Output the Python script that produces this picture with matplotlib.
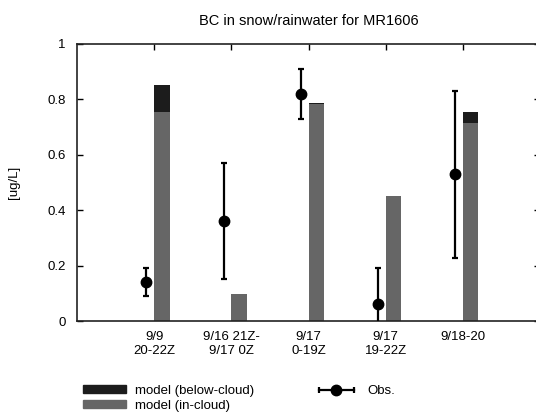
import matplotlib
matplotlib.use("Agg")
import matplotlib.pyplot as plt
from matplotlib.lines import Line2D
from matplotlib.patches import Patch
from matplotlib.legend_handler import HandlerLine2D

plt.rcParams['font.family'] = ['Liberation Sans', 'DejaVu Sans']
plt.rcParams['font.size'] = 9.5

# data
labels = ["9/9\n20-22Z", "9/16 21Z-\n9/17 0Z", "9/17\n0-19Z", "9/17\n19-22Z", "9/18-20"]
in_cloud = [0.755, 0.097, 0.783, 0.451, 0.716]
below_cloud = [0.097, 0.0, 0.004, 0.0, 0.039]
obs = [0.142, 0.361, 0.818, 0.061, 0.531]
obs_low = [0.090, 0.152, 0.730, -0.07, 0.229]
obs_high = [0.191, 0.569, 0.910, 0.190, 0.830]

x = list(range(1, len(labels) + 1))
c_in = '#666666'
c_below = '#1c1c1c'

fig = plt.figure(figsize=(5.36, 4.12), dpi=100)
ax = fig.add_axes([77 / 536, 91 / 412, 463 / 536, 277 / 412])

bx = [v + 0.1 for v in x]
ax.bar(bx, in_cloud, width=0.2, color=c_in, zorder=2)
ax.bar(bx, below_cloud, width=0.2, bottom=in_cloud, color=c_below, zorder=2)

ox = [v - 0.1 for v in x]
yerr = [[o - l for o, l in zip(obs, obs_low)], [h - o for o, h in zip(obs, obs_high)]]
ax.errorbar(ox, obs, yerr=yerr, fmt='o', color='black', ms=7.5, elinewidth=1.6,
            capsize=2, capthick=1.6, zorder=3)

ax.set_xlim(0, 6)
ax.set_ylim(0, 1)
ax.set_yticks([0, 0.2, 0.4, 0.6, 0.8, 1.0])
ax.set_yticklabels(["0", "0.2", "0.4", "0.6", "0.8", "1"])
ax.set_xticks(x)
ax.set_xticklabels(labels, linespacing=1.25)
ax.tick_params(axis='y', direction='in', length=4, width=1, left=True, right=True, pad=8)
ax.tick_params(axis='x', direction='in', length=4, width=1, bottom=False, top=True, pad=7)
for s in ax.spines.values():
    s.set_linewidth(1.2)
    s.set_color('#222222')

ax.set_ylabel("[ug/L]", labelpad=20)
ax.set_title("BC in snow/rainwater for MR1606", fontsize=10.5, pad=14)

h1 = Patch(color=c_below)
h2 = Patch(color=c_in)
caps = Line2D([], [], color='black', lw=1.6, marker='|', ms=5, mew=1.6)
dot = Line2D([], [], color='black', ls='none', marker='o', ms=7.5)
fig.legend([h1, h2, (caps, dot)], ["model (below-cloud)", "model (in-cloud)", "Obs."],
           ncol=2, loc='upper left', bbox_to_anchor=(83 / 536, 1 - 385 / 412),
           frameon=False, handlelength=3.25, handleheight=0.55, handletextpad=0.7,
           labelspacing=0.2, columnspacing=4.6, borderaxespad=0, borderpad=0,
           handler_map={caps: HandlerLine2D(numpoints=2), dot: HandlerLine2D(numpoints=1)})

fig.savefig("out.png", dpi=100)
